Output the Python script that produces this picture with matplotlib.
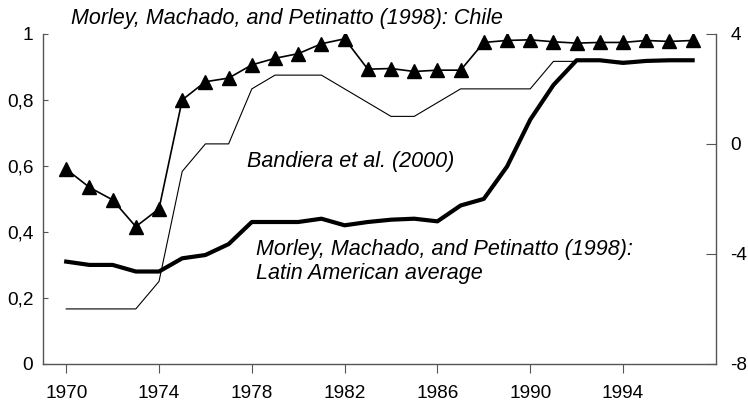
import matplotlib.pyplot as plt

plt.rcParams['font.family'] = ['Liberation Sans', 'DejaVu Sans']

# ----------------- Data -----------------
years = list(range(1970, 1998))

chile = [0.59, 0.535, 0.497, 0.416, 0.47, 0.80, 0.855, 0.866, 0.906, 0.926,
         0.94, 0.97, 0.985, 0.893, 0.895, 0.886, 0.89, 0.89, 0.974, 0.98,
         0.982, 0.976, 0.972, 0.974, 0.974, 0.98, 0.977, 0.98]

latam = [0.31, 0.30, 0.30, 0.28, 0.28, 0.32, 0.33, 0.363, 0.43, 0.43,
         0.43, 0.44, 0.42, 0.43, 0.437, 0.44, 0.432, 0.48, 0.50, 0.598,
         0.74, 0.845, 0.92, 0.92, 0.912, 0.918, 0.92, 0.92]

bandiera = [-6, -6, -6, -6, -5, -1, 0, 0, 2, 2.5,
            2.5, 2.5, 2.0, 1.5, 1.0, 1.0, 1.5, 2.0, 2.0, 2.0,
            2.0, 3.0, 3.0, 3.0, 3.0, 3.0, 3.0, 3.0]

left_ticks = [0, 0.2, 0.4, 0.6, 0.8, 1]
left_labels = ["0", "0,2", "0,4", "0,6", "0,8", "1"]
right_ticks = [-8, -4, 0, 4]
right_labels = ["-8", "-4", "0", "4"]
x_ticks = [1970, 1974, 1978, 1982, 1986, 1990, 1994]

# ----------------- Plot -----------------
fig = plt.figure(figsize=(7.48, 4.08), dpi=100)
ax = fig.add_axes([0.0575, 0.108, 0.8995, 0.809])
ax2 = ax.twinx()

ax.plot(years, latam, color="black", lw=3.0, solid_joinstyle="round")
ax.plot(years, chile, color="black", lw=1.2, marker="^", markersize=10)
ax2.plot(years, bandiera, color="black", lw=0.8)

ax.set_xlim(1969.0, 1998.0)
ax.set_ylim(0, 1)
ax2.set_ylim(-8, 4)

ax.set_xticks(x_ticks)
ax.set_yticks(left_ticks)
ax.set_yticklabels(left_labels)
ax2.set_yticks(right_ticks)
ax2.set_yticklabels(right_labels)

spine_col = "#555555"
for a in (ax, ax2):
    a.spines["top"].set_visible(False)
    for s in ("left", "right", "bottom"):
        a.spines[s].set_color(spine_col)
        a.spines[s].set_linewidth(1.0)
ax.spines["right"].set_visible(False)
ax2.spines["left"].set_visible(False)
ax2.spines["bottom"].set_visible(False)

ax.tick_params(axis="y", direction="in", length=3.6, pad=7, labelsize=13.7, color=spine_col)
ax.tick_params(axis="x", direction="out", length=6.5, pad=9, labelsize=13.7, color=spine_col)
ax2.tick_params(axis="y", direction="in", length=7, pad=10.5, labelsize=13.7, color=spine_col)

ax.text(1970.2, 1.047, "Morley, Machado, and Petinatto (1998): Chile",
        fontsize=15.5, style="italic", va="center", ha="left")
ax.text(1977.8, 0.612, "Bandiera et al. (2000)",
        fontsize=15.5, style="italic", va="center", ha="left")
ax.text(1978.2, 0.31, "Morley, Machado, and Petinatto (1998):\nLatin American average",
        fontsize=15.5, style="italic", va="center", ha="left", linespacing=1.15)

fig.savefig("out.png", dpi=100)
